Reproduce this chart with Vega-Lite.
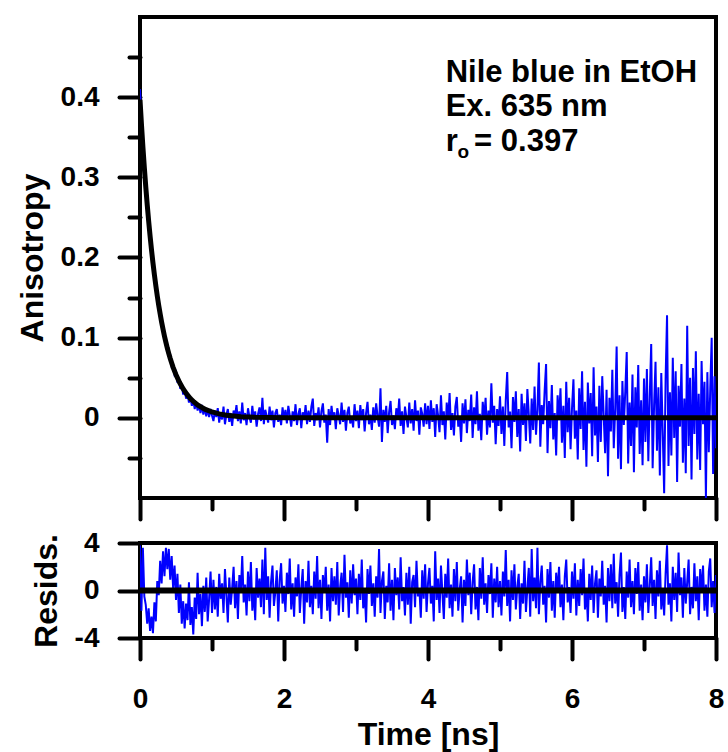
{
"$schema": "https://vega.github.io/schema/vega-lite/v6.json",
"background": "white",
"padding": {"left": 14, "top": 15, "right": 5, "bottom": 2},
"config": {
  "font": "Liberation Sans",
  "view": {"stroke": "black", "strokeWidth": 4},
  "axis": {"labelFont": "Liberation Sans", "labelFontWeight": "bold", "labelFontSize": 28, "labelColor": "black",
    "titleFont": "Liberation Sans", "titleFontWeight": "bold", "titleFontSize": 32, "titleColor": "black",
    "tickColor": "black", "tickWidth": 4, "tickCap": "round", "domain": false, "grid": false, "labelFlush": false, "labelOverlap": false}
},
"datasets": {
"obs": [
{"t":0,"r":0.41,"e":3.8},{"t":0.02,"r":0.372,"e":-1.7},{"t":0.04,"r":0.335,"e":3.6},{"t":0.06,"r":0.316,"e":-0.5},{"t":0.08,"r":0.284,"e":-1.2},{"t":0.1,"r":0.27,"e":-2.8},{"t":0.12,"r":0.241,"e":-1.5},{"t":0.14,"r":0.231,"e":-3.4},{"t":0.16,"r":0.206,"e":-2.2},{"t":0.18,"r":0.197,"e":-3.6},{"t":0.2,"r":0.175,"e":-1.0},{"t":0.22,"r":0.168,"e":-2.6},{"t":0.24,"r":0.149,"e":0.8},{"t":0.26,"r":0.143,"e":-0.4},{"t":0.28,"r":0.126,"e":2.5},{"t":0.3,"r":0.123,"e":0.6},{"t":0.32,"r":0.107,"e":3.3},{"t":0.34,"r":0.105,"e":1.2},{"t":0.36,"r":0.091,"e":3.6},{"t":0.38,"r":0.09,"e":1.8},{"t":0.4,"r":0.077,"e":3.5},{"t":0.42,"r":0.078,"e":0.9},{"t":0.44,"r":0.064,"e":2.9},{"t":0.46,"r":0.066,"e":0.2},{"t":0.48,"r":0.054,"e":2.1},{"t":0.5,"r":0.057,"e":-0.8},
{"t":0.52,"r":0.044,"e":1.4},{"t":0.54,"r":0.049,"e":-1.9},{"t":0.56,"r":0.036,"e":0.5},{"t":0.58,"r":0.041,"e":-2.8},{"t":0.6,"r":0.029,"e":-0.9},{"t":0.62,"r":0.035,"e":-3.2},{"t":0.64,"r":0.024,"e":-1.1},{"t":0.66,"r":0.03,"e":-2.5},{"t":0.68,"r":0.019,"e":0.7},{"t":0.7,"r":0.026,"e":-2.9},{"t":0.72,"r":0.015,"e":-1.4},{"t":0.74,"r":0.022,"e":-3.7},{"t":0.76,"r":0.011,"e":-0.6},{"t":0.78,"r":0.02,"e":-2.4},{"t":0.8,"r":0.009,"e":1.5},{"t":0.82,"r":0.017,"e":-2.0},{"t":0.84,"r":0.006,"e":-0.3},{"t":0.86,"r":0.016,"e":-3.0},{"t":0.88,"r":0.004,"e":0.4},{"t":0.9,"r":0.013,"e":-1.8},{"t":0.92,"r":0.002,"e":1.1},{"t":0.94,"r":0.012,"e":-2.6},{"t":0.96,"r":0.001,"e":-0.7},{"t":0.98,"r":0.011,"e":1.6},{"t":1,"r":0.003,"e":-1.9},
{"t":1.02,"r":-0.004,"e":0.9},{"t":1.04,"r":0.009,"e":-1.6},{"t":1.06,"r":0.001,"e":0.3},{"t":1.08,"r":0.012,"e":-2.2},{"t":1.1,"r":-0.006,"e":1.4},{"t":1.12,"r":0.007,"e":-0.7},{"t":1.14,"r":-0.002,"e":0.6},{"t":1.16,"r":0.014,"e":-1.9},{"t":1.18,"r":-0.008,"e":1.8},{"t":1.2,"r":0.004,"e":-0.4},{"t":1.22,"r":0.011,"e":-2.7},{"t":1.24,"r":-0.005,"e":1.1},{"t":1.26,"r":0.006,"e":-1.2},{"t":1.28,"r":-0.01,"e":0.2},{"t":1.3,"r":0.009,"e":2.0},{"t":1.32,"r":0.002,"e":-1.5},{"t":1.34,"r":0.016,"e":0.8},{"t":1.36,"r":-0.004,"e":-2.4},{"t":1.38,"r":0.008,"e":1.3},{"t":1.4,"r":-0.007,"e":-0.2},{"t":1.42,"r":0.019,"e":2.9},{"t":1.44,"r":-0.003,"e":-1.0},{"t":1.46,"r":0.006,"e":0.5},{"t":1.48,"r":-0.009,"e":-2.1},{"t":1.5,"r":0.012,"e":1.6},{"t":1.52,"r":0.001,"e":-0.9},{"t":1.54,"r":-0.006,"e":2.4},{"t":1.56,"r":0.015,"e":-1.7},{"t":1.58,"r":-0.002,"e":0.1},{"t":1.6,"r":0.008,"e":-2.5},{"t":1.62,"r":-0.011,"e":1.9},{"t":1.64,"r":0.005,"e":-0.6},{"t":1.66,"r":0.013,"e":1.0},{"t":1.68,"r":-0.004,"e":-1.4},{"t":1.7,"r":0.025,"e":2.6},{"t":1.72,"r":-0.008,"e":-2.0},{"t":1.74,"r":0.01,"e":3.6},{"t":1.76,"r":0.002,"e":-0.8},{"t":1.78,"r":-0.006,"e":1.2},{"t":1.8,"r":0.014,"e":-2.3},{"t":1.82,"r":-0.003,"e":0.7},{"t":1.84,"r":0.009,"e":2.1},{"t":1.86,"r":-0.012,"e":-1.3},{"t":1.88,"r":0.006,"e":-0.1},{"t":1.9,"r":0.011,"e":1.7},{"t":1.92,"r":-0.005,"e":-2.6},{"t":1.94,"r":0.004,"e":0.9},{"t":1.96,"r":-0.009,"e":2.3},{"t":1.98,"r":0.013,"e":-1.1},{"t":2,"r":-0.002,"e":0.4},
{"t":2.02,"r":0.01,"e":-1.8},{"t":2.04,"r":-0.007,"e":1.5},{"t":2.06,"r":0.015,"e":-0.3},{"t":2.08,"r":0.003,"e":2.7},{"t":2.1,"r":-0.011,"e":-1.6},{"t":2.12,"r":0.008,"e":0.6},{"t":2.14,"r":-0.004,"e":-2.2},{"t":2.16,"r":0.017,"e":1.1},{"t":2.18,"r":-0.009,"e":-0.5},{"t":2.2,"r":0.005,"e":2.2},{"t":2.22,"r":0.012,"e":-1.9},{"t":2.24,"r":-0.013,"e":0.2},{"t":2.26,"r":0.007,"e":1.8},{"t":2.28,"r":-0.002,"e":-2.8},{"t":2.3,"r":0.016,"e":0.8},{"t":2.32,"r":-0.008,"e":-1.0},{"t":2.34,"r":0.009,"e":2.5},{"t":2.36,"r":-0.005,"e":-1.4},{"t":2.38,"r":0.014,"e":0.4},{"t":2.4,"r":0.024,"e":-2.0},{"t":2.42,"r":-0.01,"e":1.6},{"t":2.44,"r":0.006,"e":-0.7},{"t":2.46,"r":-0.003,"e":2.9},{"t":2.48,"r":0.013,"e":-1.5},{"t":2.5,"r":-0.012,"e":0.9},{"t":2.52,"r":0.008,"e":-2.4},{"t":2.54,"r":0.018,"e":1.3},{"t":2.56,"r":-0.006,"e":-0.2},{"t":2.58,"r":0.004,"e":2.0},{"t":2.6,"r":-0.031,"e":-1.7},{"t":2.62,"r":0.011,"e":0.5},{"t":2.64,"r":-0.009,"e":-2.6},{"t":2.66,"r":0.015,"e":1.9},{"t":2.68,"r":-0.002,"e":-0.9},{"t":2.7,"r":0.007,"e":1.2},{"t":2.72,"r":-0.014,"e":-1.2},{"t":2.74,"r":0.012,"e":2.4},{"t":2.76,"r":0.003,"e":-2.1},{"t":2.78,"r":-0.008,"e":0.3},{"t":2.8,"r":0.019,"e":1.5},{"t":2.82,"r":-0.005,"e":-1.8},{"t":2.84,"r":0.01,"e":3.0},{"t":2.86,"r":-0.016,"e":-0.6},{"t":2.88,"r":0.006,"e":0.7},{"t":2.9,"r":0.014,"e":-2.3},{"t":2.92,"r":-0.007,"e":1.7},{"t":2.94,"r":0.002,"e":-1.1},{"t":2.96,"r":-0.012,"e":2.2},{"t":2.98,"r":0.017,"e":-0.4},{"t":3,"r":-0.004,"e":1.0},
{"t":3.02,"r":0.009,"e":-2.0},{"t":3.04,"r":-0.013,"e":1.4},{"t":3.06,"r":0.016,"e":-0.8},{"t":3.08,"r":-0.003,"e":2.6},{"t":3.1,"r":0.011,"e":-1.5},{"t":3.12,"r":-0.017,"e":0.1},{"t":3.14,"r":0.006,"e":-2.7},{"t":3.16,"r":0.02,"e":1.8},{"t":3.18,"r":-0.008,"e":-0.3},{"t":3.2,"r":0.004,"e":2.1},{"t":3.22,"r":-0.015,"e":-1.3},{"t":3.24,"r":0.013,"e":0.6},{"t":3.26,"r":-0.006,"e":-2.2},{"t":3.28,"r":0.018,"e":1.2},{"t":3.3,"r":0.002,"e":-0.6},{"t":3.32,"r":-0.011,"e":3.5},{"t":3.34,"r":0.037,"e":-1.9},{"t":3.36,"r":-0.03,"e":0.8},{"t":3.38,"r":0.01,"e":1.6},{"t":3.4,"r":-0.005,"e":-2.4},{"t":3.42,"r":0.015,"e":0.4},{"t":3.44,"r":-0.019,"e":-1.0},{"t":3.46,"r":0.007,"e":2.3},{"t":3.48,"r":0.021,"e":-1.7},{"t":3.5,"r":-0.009,"e":0.9},{"t":3.52,"r":0.003,"e":-2.5},{"t":3.54,"r":-0.014,"e":1.9},{"t":3.56,"r":0.012,"e":-0.4},{"t":3.58,"r":-0.002,"e":1.1},{"t":3.6,"r":0.024,"e":-1.6},{"t":3.62,"r":-0.01,"e":2.8},{"t":3.64,"r":0.008,"e":-0.9},{"t":3.66,"r":-0.02,"e":0.3},{"t":3.68,"r":0.014,"e":-2.1},{"t":3.7,"r":0.001,"e":1.5},{"t":3.72,"r":-0.012,"e":-1.2},{"t":3.74,"r":0.019,"e":2.0},{"t":3.76,"r":-0.007,"e":-2.8},{"t":3.78,"r":0.011,"e":0.7},{"t":3.8,"r":-0.016,"e":1.3},{"t":3.82,"r":0.022,"e":-1.4},{"t":3.84,"r":-0.004,"e":2.5},{"t":3.86,"r":0.009,"e":-0.5},{"t":3.88,"r":-0.021,"e":0.2},{"t":3.9,"r":0.013,"e":-2.3},{"t":3.92,"r":0.005,"e":1.7},{"t":3.94,"r":-0.011,"e":-0.7},{"t":3.96,"r":0.018,"e":2.2},{"t":3.98,"r":-0.008,"e":-1.8},{"t":4,"r":0.015,"e":0.6},
{"t":4.02,"r":-0.014,"e":1.9},{"t":4.04,"r":0.022,"e":-1.1},{"t":4.06,"r":-0.005,"e":0.4},{"t":4.08,"r":0.012,"e":-2.6},{"t":4.1,"r":-0.024,"e":3.3},{"t":4.12,"r":0.017,"e":-0.8},{"t":4.14,"r":0.003,"e":1.0},{"t":4.16,"r":-0.018,"e":-1.9},{"t":4.18,"r":0.028,"e":2.1},{"t":4.2,"r":-0.009,"e":-0.2},{"t":4.22,"r":0.008,"e":-2.4},{"t":4.24,"r":-0.027,"e":1.4},{"t":4.26,"r":0.019,"e":-0.6},{"t":4.28,"r":-0.003,"e":2.7},{"t":4.3,"r":0.031,"e":-1.5},{"t":4.32,"r":-0.015,"e":0.5},{"t":4.34,"r":0.006,"e":-2.2},{"t":4.36,"r":-0.022,"e":1.8},{"t":4.38,"r":0.014,"e":-0.9},{"t":4.4,"r":0.026,"e":2.4},{"t":4.42,"r":-0.011,"e":-1.7},{"t":4.44,"r":0.002,"e":0.1},{"t":4.46,"r":-0.03,"e":1.2},{"t":4.48,"r":0.018,"e":-2.7},{"t":4.5,"r":-0.007,"e":0.9},{"t":4.52,"r":0.023,"e":-1.3},{"t":4.54,"r":-0.019,"e":2.6},{"t":4.56,"r":0.01,"e":-0.4},{"t":4.58,"r":-0.004,"e":1.5},{"t":4.6,"r":0.029,"e":-2.0},{"t":4.62,"r":-0.025,"e":0.7},{"t":4.64,"r":0.013,"e":2.2},{"t":4.66,"r":-0.008,"e":-1.6},{"t":4.68,"r":0.033,"e":0.3},{"t":4.7,"r":-0.016,"e":-2.5},{"t":4.72,"r":0.005,"e":1.9},{"t":4.74,"r":-0.028,"e":-0.7},{"t":4.76,"r":0.02,"e":2.8},{"t":4.78,"r":-0.002,"e":-1.2},{"t":4.8,"r":0.025,"e":0.6},{"t":4.82,"r":-0.021,"e":-1.9},{"t":4.84,"r":0.009,"e":1.3},{"t":4.86,"r":-0.012,"e":-0.3},{"t":4.88,"r":0.043,"e":2.3},{"t":4.9,"r":-0.006,"e":-2.3},{"t":4.92,"r":0.015,"e":1.0},{"t":4.94,"r":-0.033,"e":-1.0},{"t":4.96,"r":0.011,"e":2.0},{"t":4.98,"r":-0.01,"e":-1.4},{"t":5,"r":0.027,"e":0.8},
{"t":5.02,"r":-0.02,"e":-2.1},{"t":5.04,"r":0.014,"e":1.6},{"t":5.06,"r":-0.035,"e":-0.5},{"t":5.08,"r":0.022,"e":3.4},{"t":5.1,"r":0.057,"e":-1.3},{"t":5.12,"r":-0.012,"e":0.9},{"t":5.14,"r":0.008,"e":-2.6},{"t":5.16,"r":-0.038,"e":1.7},{"t":5.18,"r":0.026,"e":-0.8},{"t":5.2,"r":-0.005,"e":2.2},{"t":5.22,"r":0.033,"e":-1.6},{"t":5.24,"r":-0.024,"e":0.3},{"t":5.26,"r":0.011,"e":1.4},{"t":5.28,"r":-0.042,"e":-2.4},{"t":5.3,"r":0.03,"e":0.6},{"t":5.32,"r":-0.009,"e":-1.1},{"t":5.34,"r":0.018,"e":2.5},{"t":5.36,"r":-0.029,"e":-1.8},{"t":5.38,"r":0.036,"e":0.2},{"t":5.4,"r":0.004,"e":1.9},{"t":5.42,"r":-0.032,"e":-2.2},{"t":5.44,"r":0.024,"e":3.5},{"t":5.46,"r":-0.015,"e":-0.9},{"t":5.48,"r":0.039,"e":1.1},{"t":5.5,"r":-0.021,"e":-1.5},{"t":5.52,"r":0.01,"e":3.6},{"t":5.54,"r":0.069,"e":-2.0},{"t":5.56,"r":-0.036,"e":0.7},{"t":5.58,"r":0.016,"e":2.1},{"t":5.6,"r":-0.008,"e":-1.2},{"t":5.62,"r":0.034,"e":0.4},{"t":5.64,"r":0.067,"e":-2.7},{"t":5.66,"r":-0.044,"e":1.8},{"t":5.68,"r":0.021,"e":-0.6},{"t":5.7,"r":-0.013,"e":2.4},{"t":5.72,"r":0.041,"e":-1.7},{"t":5.74,"r":-0.027,"e":0.8},{"t":5.76,"r":0.006,"e":-2.3},{"t":5.78,"r":-0.047,"e":1.5},{"t":5.8,"r":0.028,"e":-0.2},{"t":5.82,"r":-0.003,"e":2.0},{"t":5.84,"r":0.037,"e":-1.4},{"t":5.86,"r":-0.031,"e":0.5},{"t":5.88,"r":0.015,"e":-2.5},{"t":5.9,"r":-0.05,"e":1.2},{"t":5.92,"r":0.045,"e":2.6},{"t":5.94,"r":-0.018,"e":-1.0},{"t":5.96,"r":0.025,"e":0.3},{"t":5.98,"r":-0.039,"e":-1.9},{"t":6,"r":0.012,"e":1.6},
{"t":6.02,"r":0.048,"e":-0.7},{"t":6.04,"r":-0.026,"e":2.3},{"t":6.06,"r":0.009,"e":-2.1},{"t":6.08,"r":-0.052,"e":0.9},{"t":6.1,"r":0.037,"e":-1.3},{"t":6.12,"r":-0.014,"e":1.8},{"t":6.14,"r":0.058,"e":-0.4},{"t":6.16,"r":-0.04,"e":2.7},{"t":6.18,"r":0.02,"e":-1.6},{"t":6.2,"r":-0.061,"e":0.2},{"t":6.22,"r":0.044,"e":-2.6},{"t":6.24,"r":-0.007,"e":1.4},{"t":6.26,"r":0.031,"e":-0.8},{"t":6.28,"r":-0.048,"e":2.1},{"t":6.3,"r":0.063,"e":-1.9},{"t":6.32,"r":-0.022,"e":0.6},{"t":6.34,"r":0.014,"e":1.7},{"t":6.36,"r":-0.055,"e":-2.3},{"t":6.38,"r":0.04,"e":1.0},{"t":6.4,"r":-0.03,"e":-0.5},{"t":6.42,"r":0.052,"e":2.5},{"t":6.44,"r":0.003,"e":-1.2},{"t":6.46,"r":-0.044,"e":0.4},{"t":6.48,"r":0.035,"e":-2.7},{"t":6.5,"r":-0.073,"e":1.9},{"t":6.52,"r":0.025,"e":-0.9},{"t":6.54,"r":-0.017,"e":2.2},{"t":6.56,"r":0.06,"e":-1.5},{"t":6.58,"r":-0.038,"e":3.1},{"t":6.6,"r":0.011,"e":-1.1},{"t":6.62,"r":0.089,"e":0.7},{"t":6.64,"r":-0.051,"e":-2.2},{"t":6.66,"r":0.028,"e":1.3},{"t":6.68,"r":-0.064,"e":3.2},{"t":6.7,"r":0.046,"e":-1.8},{"t":6.72,"r":-0.009,"e":0.3},{"t":6.74,"r":0.033,"e":-2.4},{"t":6.76,"r":0.082,"e":1.6},{"t":6.78,"r":-0.057,"e":-0.6},{"t":6.8,"r":0.019,"e":2.6},{"t":6.82,"r":-0.035,"e":-1.4},{"t":6.84,"r":0.054,"e":0.8},{"t":6.86,"r":-0.068,"e":-2.0},{"t":6.88,"r":0.038,"e":1.9},{"t":6.9,"r":-0.012,"e":-0.3},{"t":6.92,"r":0.066,"e":2.4},{"t":6.94,"r":-0.045,"e":-1.7},{"t":6.96,"r":0.022,"e":0.5},{"t":6.98,"r":-0.059,"e":-2.5},{"t":7,"r":0.049,"e":1.2},
{"t":7.02,"r":-0.03,"e":-1.0},{"t":7.04,"r":0.061,"e":2.2},{"t":7.06,"r":-0.054,"e":-1.9},{"t":7.08,"r":0.027,"e":0.4},{"t":7.1,"r":0.092,"e":2.8},{"t":7.12,"r":-0.063,"e":-1.3},{"t":7.14,"r":0.015,"e":0.9},{"t":7.16,"r":0.07,"e":-2.4},{"t":7.18,"r":-0.041,"e":1.7},{"t":7.2,"r":0.038,"e":-0.5},{"t":7.22,"r":-0.072,"e":2.5},{"t":7.24,"r":0.056,"e":-1.6},{"t":7.26,"r":-0.018,"e":0.2},{"t":7.28,"r":-0.094,"e":-2.1},{"t":7.3,"r":0.048,"e":1.4},{"t":7.32,"r":0.128,"e":3.8},{"t":7.34,"r":-0.06,"e":-1.2},{"t":7.36,"r":0.032,"e":0.6},{"t":7.38,"r":-0.047,"e":-2.6},{"t":7.4,"r":0.075,"e":2.0},{"t":7.42,"r":-0.025,"e":-0.8},{"t":7.44,"r":0.058,"e":1.5},{"t":7.46,"r":-0.08,"e":-1.8},{"t":7.48,"r":0.04,"e":3.2},{"t":7.5,"r":-0.011,"e":-0.4},{"t":7.52,"r":0.067,"e":1.1},{"t":7.54,"r":-0.056,"e":-2.3},{"t":7.56,"r":0.024,"e":1.9},{"t":7.58,"r":-0.069,"e":-1.1},{"t":7.6,"r":0.115,"e":0.7},{"t":7.62,"r":-0.035,"e":2.6},{"t":7.64,"r":0.05,"e":-2.0},{"t":7.66,"r":-0.077,"e":0.3},{"t":7.68,"r":0.062,"e":-1.5},{"t":7.7,"r":-0.02,"e":2.3},{"t":7.72,"r":0.083,"e":-0.9},{"t":7.74,"r":-0.052,"e":1.2},{"t":7.76,"r":0.03,"e":-2.5},{"t":7.78,"r":-0.065,"e":1.8},{"t":7.8,"r":0.071,"e":-0.2},{"t":7.82,"r":-0.008,"e":2.1},{"t":7.84,"r":0.045,"e":-1.7},{"t":7.86,"r":-0.1,"e":0.5},{"t":7.88,"r":0.057,"e":-2.2},{"t":7.9,"r":-0.043,"e":1.6},{"t":7.92,"r":0.036,"e":2.7},{"t":7.94,"r":0.1,"e":-1.4},{"t":7.96,"r":-0.07,"e":0.8},{"t":7.98,"r":0.052,"e":-1.9},{"t":8,"r":-0.038,"e":1.3}
],
"fit": [
{"t":0,"f":0.397},{"t":0.02,"f":0.3665},{"t":0.04,"f":0.3383},{"t":0.06,"f":0.3123},{"t":0.08,"f":0.2883},{"t":0.1,"f":0.2661},{"t":0.12,"f":0.2457},{"t":0.14,"f":0.2268},{"t":0.16,"f":0.2093},{"t":0.18,"f":0.1933},{"t":0.2,"f":0.1784},{"t":0.22,"f":0.1647},{"t":0.24,"f":0.152},{"t":0.26,"f":0.1403},{"t":0.28,"f":0.1296},{"t":0.3,"f":0.1196},{"t":0.32,"f":0.1104},{"t":0.34,"f":0.1019},{"t":0.36,"f":0.0941},{"t":0.38,"f":0.0868},{"t":0.4,"f":0.0802},{"t":0.42,"f":0.074},{"t":0.44,"f":0.0683},{"t":0.46,"f":0.063},{"t":0.48,"f":0.0582},{"t":0.5,"f":0.0537},{"t":0.55,"f":0.044},{"t":0.6,"f":0.036},{"t":0.65,"f":0.0295},{"t":0.7,"f":0.0241},{"t":0.75,"f":0.0198},{"t":0.8,"f":0.0162},{"t":0.9,"f":0.0108},{"t":1,"f":0.0073},{"t":1.1,"f":0.0049},{"t":1.2,"f":0.0033},{"t":1.4,"f":0.0015},{"t":1.6,"f":0.0007},{"t":1.8,"f":0.0003},{"t":2,"f":0.0001},{"t":2.5,"f":0},{"t":8,"f":0}
]
},
"spacing": 45,
"bounds": "flush",
"vconcat": [
{
  "width": 576, "height": 481,
  "layer": [
    {"data": {"name": "obs"},
     "mark": {"type": "line", "color": "#0000ff", "strokeWidth": 2, "clip": true},
     "encoding": {
       "x": {"field": "t", "type": "quantitative", "scale": {"domain": [0, 8], "nice": false},
         "axis": {"values": [0,1,2,3,4,5,6,7,8], "labels": false, "title": null,
           "tickSize": {"condition": {"test": "datum.value % 2 === 0", "value": 21}, "value": 11}}},
       "y": {"field": "r", "type": "quantitative", "scale": {"domain": [-0.1, 0.5], "nice": false, "zero": false},
         "axis": {"values": [-0.05,0,0.05,0.1,0.15,0.2,0.25,0.3,0.35,0.4,0.45], "title": "Anisotropy", "format": "~g",
           "labelExpr": "round(datum.value*100) % 10 === 0 ? datum.label : ''",
           "labelPadding": 20, "titlePadding": 11,
           "tickSize": {"condition": {"test": "round(datum.value*100) % 10 === 0", "value": 21}, "value": 11}}}
     }},
    {"data": {"name": "fit"},
     "mark": {"type": "line", "color": "black", "strokeWidth": 5, "clip": true},
     "encoding": {"x": {"field": "t", "type": "quantitative"}, "y": {"field": "f", "type": "quantitative"}}},
    {"data": {"values": [{}]},
     "mark": {"type": "text", "align": "left", "baseline": "alphabetic", "fontSize": 31, "fontWeight": "bold", "font": "Liberation Sans", "color": "black", "lineHeight": 34.5},
     "encoding": {"x": {"datum": 4.245}, "y": {"datum": 0.419},
       "text": {"value": ["Nile blue in EtOH", "Ex. 635 nm"]}}},
    {"data": {"values": [{}]},
     "mark": {"type": "text", "align": "left", "baseline": "alphabetic", "fontSize": 31, "fontWeight": "bold", "font": "Liberation Sans", "color": "black"},
     "encoding": {"x": {"datum": 4.245}, "y": {"datum": 0.333}, "text": {"value": "r"}}},
    {"data": {"values": [{}]},
     "mark": {"type": "text", "align": "left", "baseline": "alphabetic", "fontSize": 19, "fontWeight": "bold", "font": "Liberation Sans", "color": "black"},
     "encoding": {"x": {"datum": 4.41}, "y": {"datum": 0.324}, "text": {"value": "o"}}},
    {"data": {"values": [{}]},
     "mark": {"type": "text", "align": "left", "baseline": "alphabetic", "fontSize": 31, "fontWeight": "bold", "font": "Liberation Sans", "color": "black"},
     "encoding": {"x": {"datum": 4.64}, "y": {"datum": 0.333}, "text": {"value": "= 0.397"}}}
  ]
},
{
  "width": 576, "height": 95,
  "layer": [
    {"data": {"name": "obs"},
     "mark": {"type": "line", "color": "#0000ff", "strokeWidth": 2, "clip": true},
     "encoding": {
       "x": {"field": "t", "type": "quantitative", "scale": {"domain": [0, 8], "nice": false},
         "axis": {"values": [0,1,2,3,4,5,6,7,8], "title": "Time [ns]",
           "labelExpr": "datum.value % 2 === 0 ? datum.label : ''",
           "labelPadding": 26, "titlePadding": 6,
           "tickSize": {"condition": {"test": "datum.value % 2 === 0", "value": 21}, "value": 11}}},
       "y": {"field": "e", "type": "quantitative", "scale": {"domain": [-4, 4], "nice": false},
         "axis": {"values": [-4,-2,0,2,4], "title": "Resids.",
           "labelExpr": "datum.value % 4 === 0 ? '' + datum.value : ''",
           "labelPadding": 20, "titlePadding": 11,
           "tickSize": {"condition": {"test": "datum.value % 4 === 0", "value": 21}, "value": 11}}}
     }},
    {"data": {"values": [{}]},
     "mark": {"type": "rule", "color": "black", "strokeWidth": 6},
     "encoding": {"y": {"datum": 0}}}
  ]
}
]
}
